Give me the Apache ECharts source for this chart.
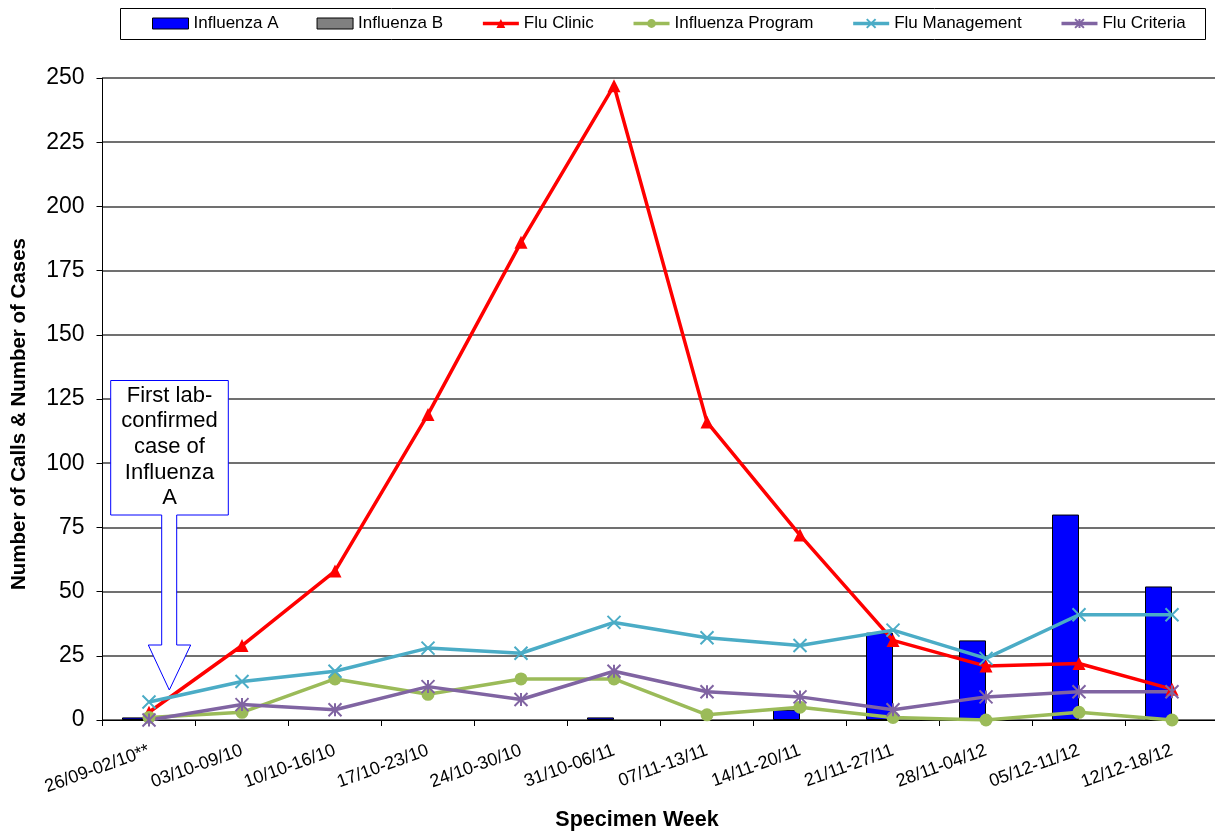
<!DOCTYPE html>
<html><head><meta charset="utf-8">
<script src="https://cdn.jsdelivr.net/npm/echarts@6/dist/echarts.min.js"></script>
<style>html,body{margin:0;padding:0;background:#fff;overflow:hidden;width:1215px;height:834px}#c{width:1219px;height:834px}</style>
</head><body><div id="c"></div>
<script>
// ---- data ----
const weeks = ['26/09-02/10**','03/10-09/10','10/10-16/10','17/10-23/10','24/10-30/10','31/10-06/11','07/11-13/11','14/11-20/11','21/11-27/11','28/11-04/12','05/12-11/12','12/12-18/12'];
const influenzaA = [1,0,0,0,0,1,0,4,34,31,80,52];
const influenzaB = [0,0,0,0,0,0,0,0,0,0,0,0];
const fluClinic = [3,29,58,119,186,247,116,72,31,21,22,12];
const influenzaProgram = [1,3,16,10,16,16,2,5,1,0,3,0];
const fluManagement = [7,15,19,28,26,38,32,29,35,24,41,41];
const fluCriteria = [0,6,4,13,8,19,11,9,4,9,11,11];
const yMin = 0, yMax = 250, yInterval = 25;
const xAxisTitle = 'Specimen Week';
const yAxisTitle = 'Number of Calls & Number of Cases';
const calloutText = 'First lab-\nconfirmed\ncase of\nInfluenza\nA';

const FONT = '"Liberation Sans", Arial, sans-serif';
const crossPath = 'path://M0 0L10 10M10 0L0 10';
const starPath = 'path://M0 0L10 10M10 0L0 10M5 0L5 10';

// zero-height bars get no outline (Excel draws nothing for them)
function barData(arr) {
  return arr.map(v => v === 0 ? { value: v, itemStyle: { borderWidth: 0 } } : v);
}
function lineSeries(name, data, color, symbol, stroke) {
  return {
    name, type: 'line', data, symbol, symbolSize: 13, showAllSymbol: true,
    lineStyle: { color, width: 3.5 },
    itemStyle: { color, borderColor: color, borderWidth: stroke ? 2 : 0 },
    z: 3
  };
}
function legendLine(name) {
  return { name, lineStyle: { width: 3.5 } };
}

const chart = echarts.init(document.getElementById('c'), null, { renderer: 'canvas' });
chart.setOption({
  animation: false,
  backgroundColor: '#fff',
  textStyle: { fontFamily: FONT },
  grid: { left: 102.5, right: 0.5, top: 78, bottom: 114 },
  legend: {
    left: 152, top: 15, padding: 0, itemGap: 38, itemWidth: 36, itemHeight: 11,
    textStyle: { fontSize: 17, color: '#000', fontFamily: FONT },
    data: [
      { name: 'Influenza A', icon: 'rect', itemStyle: { borderColor: '#000', borderWidth: 1 } },
      { name: 'Influenza B', icon: 'rect', itemStyle: { borderColor: '#000', borderWidth: 1 } },
      legendLine('Flu Clinic'), legendLine('Influenza Program'), legendLine('Flu Management'), legendLine('Flu Criteria')
    ]
  },
  xAxis: {
    type: 'category', data: weeks, boundaryGap: true,
    axisLine: { lineStyle: { color: '#000', width: 1 } },
    axisTick: { show: true, length: 6, alignWithLabel: false, interval: 0, lineStyle: { color: '#000' } },
    axisLabel: { interval: 0, rotate: 20, margin: 30, fontSize: 18, color: '#000', fontFamily: FONT },
    splitLine: { show: false }
  },
  yAxis: {
    type: 'value', min: yMin, max: yMax, interval: yInterval,
    axisLine: { show: true, lineStyle: { color: '#000', width: 1 } },
    axisTick: { show: true, length: 6, lineStyle: { color: '#000' } },
    axisLabel: { fontSize: 23, color: '#000', margin: 18, fontFamily: FONT },
    splitLine: { show: true, lineStyle: { color: '#404040', width: 1.5 } }
  },
  series: [
    { name: 'Influenza A', type: 'bar', data: barData(influenzaA), barWidth: 27, barGap: '0%',
      itemStyle: { color: '#0000FF', borderColor: '#000', borderWidth: 1 }, z: 2 },
    { name: 'Influenza B', type: 'bar', data: barData(influenzaB), barWidth: 27, barGap: '0%',
      itemStyle: { color: '#808080', borderColor: '#000', borderWidth: 1 }, z: 2 },
    lineSeries('Flu Clinic', fluClinic, '#FF0000', 'triangle', false),
    lineSeries('Influenza Program', influenzaProgram, '#9BBB59', 'circle', false),
    lineSeries('Flu Management', fluManagement, '#4BACC6', crossPath, true),
    lineSeries('Flu Criteria', fluCriteria, '#8064A2', starPath, true)
  ],
  graphic: [
    { type: 'rect', z: -1, shape: { x: 120.5, y: 8.5, width: 1085, height: 31 },
      style: { fill: '#fff', stroke: '#000', lineWidth: 1 } },
    { type: 'polygon', z: 1,
      shape: { points: [[110.7,380.5],[228.3,380.5],[228.3,515],[176.7,515],[176.7,645],[190.7,645],[169.3,690],[148.3,645],[161.7,645],[161.7,515],[110.7,515]] },
      style: { fill: '#fff', stroke: '#0000FF', lineWidth: 1 } },
    { type: 'text', z: 1, x: 169.5, y: 447,
      style: { text: calloutText, fill: '#000', font: '22px ' + FONT, textAlign: 'center', textVerticalAlign: 'middle', lineHeight: 25.7 } },
    { type: 'text', z: 1, x: 637, y: 820,
      style: { text: xAxisTitle, fill: '#000', font: 'bold 21.5px ' + FONT, textAlign: 'center', textVerticalAlign: 'middle' } },
    { type: 'text', z: 1, x: 19.5, y: 414, rotation: Math.PI / 2,
      style: { text: yAxisTitle, fill: '#000', font: 'bold 20.5px ' + FONT, textAlign: 'center', textVerticalAlign: 'middle' } }
  ]
});
</script></body></html>
